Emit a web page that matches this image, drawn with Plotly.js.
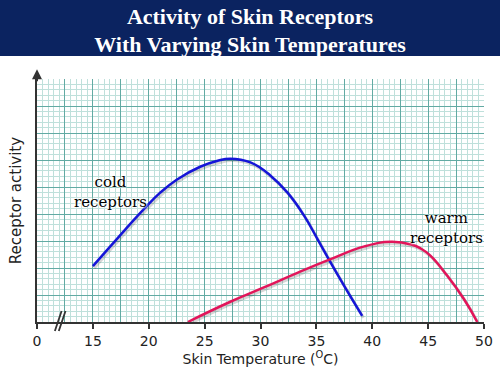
<!DOCTYPE html>
<html>
<head>
<meta charset="utf-8">
<script src="https://cdn.plot.ly/plotly-3.0.1.min.js"></script>
<style>html,body{margin:0;padding:0;background:#fff;}#chart{width:500px;height:375px;}</style>
</head>
<body>
<div id="chart"></div>
<script>
// Skin temperature (°C); the axis is broken between 0 and 15, so "0" sits at position 10
const coldTemp = [15, 17.2, 19.5, 21.0, 22.5, 24.6, 26.1, 27.3, 29.1, 30.9, 32.4, 33.9, 35.1, 36.1, 37.5, 39.1];
const coldActivity = [2.07, 3.1, 4.15, 4.78, 5.27, 5.75, 5.96, 6.05, 5.91, 5.42, 4.8, 3.94, 3.07, 2.33, 1.33, 0.23];
const warmTemp = [23.5, 27.3, 30.3, 33.3, 36.1, 39.3, 41.7, 43.5, 44.35, 45.2, 46.7, 48.2, 49.4];
const warmActivity = [0, 0.75, 1.28, 1.82, 2.3, 2.8, 2.97, 2.87, 2.72, 2.46, 1.72, 0.85, 0];
const tickPositions = [10, 15, 20, 25, 30, 35, 40, 45, 50];
const tickLabels = ['0', '15', '20', '25', '30', '35', '40', '45', '50'];

const handFont = 'DejaVu Sans, sans-serif';
const labelFont = 'DejaVu Serif, serif';

function shadowOf(xs, ys) {
  return {x: xs.map(v => v + 0.12), y: ys.map(v => v - 0.07)};
}
const coldShadow = shadowOf(coldTemp, coldActivity);
const warmShadow = shadowOf(warmTemp, warmActivity);

const traces = [
  {x: coldShadow.x, y: coldShadow.y, mode: 'lines', line: {color: 'rgba(0,0,0,0.16)', width: 3, shape: 'spline', smoothing: 1.3}, xaxis: 'x', yaxis: 'y', hoverinfo: 'skip'},
  {x: warmShadow.x, y: warmShadow.y, mode: 'lines', line: {color: 'rgba(0,0,0,0.16)', width: 3, shape: 'spline', smoothing: 1.3}, xaxis: 'x', yaxis: 'y', hoverinfo: 'skip'},
  {x: coldTemp, y: coldActivity, mode: 'lines', name: 'cold receptors', line: {color: '#1515d8', width: 2.5, shape: 'spline', smoothing: 1.3}, xaxis: 'x', yaxis: 'y'},
  {x: warmTemp, y: warmActivity, mode: 'lines', name: 'warm receptors', line: {color: '#e2155a', width: 2.5, shape: 'spline', smoothing: 1.3}, xaxis: 'x', yaxis: 'y'},
  {x: [10], y: [null], mode: 'lines', xaxis: 'x2', yaxis: 'y', hoverinfo: 'skip'}
];

const layout = {
  width: 500, height: 375,
  margin: {l: 37, r: 16, t: 79, b: 53},
  paper_bgcolor: '#ffffff',
  plot_bgcolor: '#ffffff',
  showlegend: false,
  hovermode: false,
  title: {
    text: '<b>Activity of Skin Receptors<br>With Varying Skin Temperatures</b>',
    font: {family: 'Liberation Serif, serif', size: 22, color: '#ffffff'},
    x: 0.5, xref: 'container', xanchor: 'center',
    y: 0.937, yref: 'container', yanchor: 'middle'
  },
  xaxis: {
    range: [10, 50], tick0: 10, dtick: 2.5,
    showgrid: true, gridcolor: '#62aaa3', gridwidth: 1,
    minor: {dtick: 0.5, showgrid: true, gridcolor: '#bfe0db', gridwidth: 1},
    showticklabels: false, ticks: '', showline: false, zeroline: false, fixedrange: true
  },
  xaxis2: {
    overlaying: 'x', anchor: 'y', side: 'bottom',
    range: [10, 50], tickmode: 'array', tickvals: tickPositions, ticktext: tickLabels,
    showgrid: false, zeroline: false,
    ticks: 'outside', ticklen: 5, tickwidth: 2, tickcolor: '#333333',
    showline: true, linecolor: '#333333', linewidth: 2,
    tickfont: {family: handFont, size: 14, color: '#222222'},
    title: {text: 'Skin Temperature (<sup>O</sup>C)', font: {family: handFont, size: 14, color: '#222222'}, standoff: 2},
    fixedrange: true
  },
  yaxis: {
    range: [0, 9], tick0: 0, dtick: 1,
    showgrid: true, gridcolor: '#62aaa3', gridwidth: 1,
    minor: {dtick: 0.2, showgrid: true, gridcolor: '#bfe0db', gridwidth: 1},
    showticklabels: false, ticks: '', zeroline: false,
    showline: true, linecolor: '#333333', linewidth: 2,
    title: {text: 'Receptor activity', font: {family: handFont, size: 15, color: '#222222'}, standoff: 10},
    fixedrange: true
  },
  shapes: [
    {type: 'rect', xref: 'paper', yref: 'paper', x0: -0.1, x1: 1.1, y0: 1.0947, y1: 1.36, fillcolor: '#0b2360', line: {width: 0}, layer: 'below'},
    {type: 'line', xref: 'x', yref: 'paper', x0: 11.6, y0: -0.037, x1: 12.2, y1: 0.045, line: {color: '#333333', width: 1.8}},
    {type: 'line', xref: 'x', yref: 'paper', x0: 11.95, y0: -0.037, x1: 12.55, y1: 0.045, line: {color: '#333333', width: 1.8}}
  ],
  annotations: [
    {xref: 'x', yref: 'paper', x: 10, y: 1.04, ax: 0, ay: 22, axref: 'pixel', ayref: 'pixel',
     showarrow: true, arrowhead: 2, arrowsize: 1, arrowwidth: 2, arrowcolor: '#333333', text: ' '},
    {xref: 'x', yref: 'y', x: 16.55, y: 4.8, text: 'cold<br>receptors', showarrow: false,
     font: {family: labelFont, size: 15, color: '#000000', shadow: '0 0 3px #fff, 0 0 3px #fff, 0 0 2px #fff'}},
    {xref: 'x', yref: 'y', x: 46.6, y: 3.5, text: 'warm<br>receptors', showarrow: false,
     font: {family: labelFont, size: 15, color: '#000000', shadow: '0 0 3px #fff, 0 0 3px #fff, 0 0 2px #fff'}}
  ]
};

Plotly.newPlot('chart', traces, layout, {displayModeBar: false, staticPlot: true});
</script>
</body>
</html>
